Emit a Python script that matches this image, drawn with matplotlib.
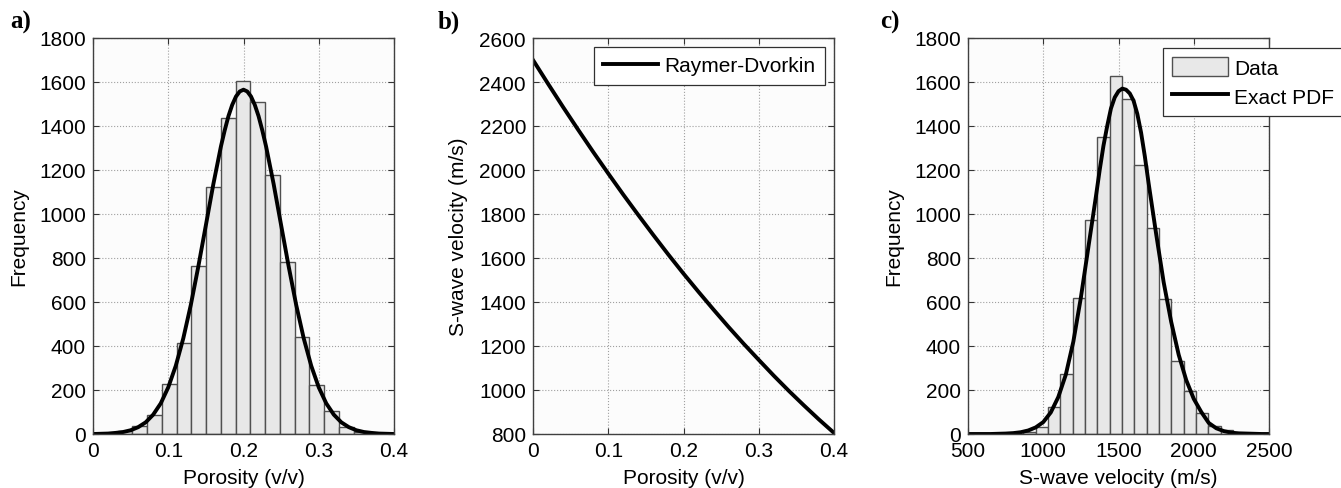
import numpy as np
import matplotlib
matplotlib.use('Agg')
import matplotlib.pyplot as plt

# Porosity histogram (20 bins) and the exact normal PDF scaled to counts
phi_edges = [0.0130, 0.0326, 0.0522, 0.0718, 0.0914, 0.1110, 0.1306, 0.1502,
             0.1698, 0.1894, 0.2090, 0.2286, 0.2482, 0.2678, 0.2874, 0.3070,
             0.3266, 0.3462, 0.3658, 0.3854, 0.4050]
phi_counts = [2, 12, 37, 88, 229, 413, 764, 1122, 1436, 1606,
              1508, 1176, 782, 442, 221, 105, 30, 8, 2, 1]
phi_grid = [0.00, 0.01, 0.02, 0.03, 0.04, 0.05, 0.06, 0.07, 0.08, 0.09, 0.10,
            0.11, 0.12, 0.13, 0.14, 0.15, 0.16, 0.17, 0.175, 0.18, 0.185,
            0.19, 0.195, 0.20, 0.205, 0.21, 0.215, 0.22, 0.225, 0.23,
            0.24, 0.25, 0.26, 0.27, 0.28, 0.29, 0.30,
            0.31, 0.32, 0.33, 0.34, 0.35, 0.36, 0.37, 0.38, 0.39, 0.40]
phi_pdf = [0, 1, 2, 5, 9, 17, 31, 53, 88, 139, 212,
           310, 435, 587, 762, 949, 1137, 1307, 1380, 1445, 1496,
           1534, 1557, 1565, 1557, 1534, 1496, 1445, 1380, 1307,
           1137, 949, 762, 587, 435, 310, 212,
           139, 88, 53, 31, 17, 9, 5, 2, 1, 0]

# Raymer-Dvorkin S-wave velocity vs porosity
rd_phi = [0.00, 0.02, 0.04, 0.06, 0.08, 0.10, 0.12, 0.14, 0.16, 0.18, 0.20,
          0.22, 0.24, 0.26, 0.28, 0.30, 0.32, 0.34, 0.36, 0.38, 0.40]
rd_vs = [2500, 2392, 2286, 2183, 2082, 1984, 1888, 1795, 1704, 1615, 1529,
         1446, 1365, 1286, 1210, 1137, 1065, 996, 930, 866, 805]

# S-wave velocity histogram and its exact PDF
vs_edges = [786, 868, 950, 1032, 1114, 1196, 1278, 1360, 1442, 1524, 1606,
            1688, 1770, 1852, 1934, 2016, 2098, 2180, 2262, 2344, 2426]
vs_counts = [1, 8, 33, 124, 275, 617, 972, 1348, 1628, 1524,
             1222, 937, 613, 334, 196, 95, 37, 20, 3, 1]
vs_grid = [500, 550, 600, 650, 700, 750, 800, 850, 900, 950, 1000,
           1050, 1100, 1150, 1200, 1250, 1300, 1325, 1350, 1375, 1400,
           1425, 1450, 1475, 1500, 1525, 1550, 1575, 1600, 1625, 1650,
           1675, 1700, 1725, 1750, 1775, 1800, 1850, 1900, 1950, 2000,
           2050, 2100, 2150, 2200, 2250, 2300, 2350, 2400, 2450, 2500]
vs_pdf = [0, 0, 0, 0, 1, 2, 4, 8, 16, 30, 54,
          98, 168, 270, 420, 620, 850, 965, 1080, 1200, 1310,
          1400, 1480, 1530, 1558, 1570, 1565, 1548, 1515, 1455, 1370,
          1262, 1140, 1025, 910, 800, 690, 510, 360, 245, 160,
          100, 50, 26, 13, 6, 3, 2, 1, 0, 0]

phi_ticks = [0, 0.1, 0.2, 0.3, 0.4]
phi_ticklabels = ['0', '0.1', '0.2', '0.3', '0.4']
freq_ticks = list(range(0, 1801, 200))
vs_ticks = list(range(800, 2601, 200))
vel_ticks = [500, 1000, 1500, 2000, 2500]

plt.rcParams['font.family'] = ['Liberation Sans', 'DejaVu Sans']
FS = 15
BAR_FACE = '#e8e8e8'
BAR_EDGE = '#505050'
AX_BG = '#fcfcfc'

W, H = 1341, 489
fig = plt.figure(figsize=(W / 100, H / 100), dpi=100)


def px_axes(left, right, top, bottom):
    return fig.add_axes([left / W, 1 - bottom / H, (right - left) / W, (bottom - top) / H])


def style(ax):
    ax.set_facecolor(AX_BG)
    ax.grid(True, linestyle=':', color='#a0a0a0', linewidth=0.8)
    ax.set_axisbelow(True)
    ax.tick_params(direction='in', length=4, width=0.8, color='#333333',
                   top=True, right=True, labelsize=FS, pad=5)
    for s in ax.spines.values():
        s.set_color('#404040')
        s.set_linewidth(1.0)


def hist_bars(ax, edges, counts):
    edges = np.asarray(edges, dtype=float)
    return ax.bar(edges[:-1], counts, width=np.diff(edges), align='edge',
                  color=BAR_FACE, edgecolor=BAR_EDGE, linewidth=1.0, label='Data')


def boxed_legend(ax, handles, loc, anchor, **kw):
    leg = ax.legend(handles=handles, loc=loc, bbox_to_anchor=anchor,
                    bbox_transform=fig.transFigure, fontsize=FS, frameon=True,
                    fancybox=False, framealpha=1, edgecolor='#303030',
                    handlelength=2.65, handletextpad=0.3, borderpad=0.45,
                    borderaxespad=0, **kw)
    leg.get_frame().set_linewidth(0.9)
    return leg


# a) porosity histogram
ax1 = px_axes(93, 394, 39, 435)
style(ax1)
hist_bars(ax1, phi_edges, phi_counts)
ax1.plot(phi_grid, phi_pdf, color='black', lw=2.8)
ax1.set_xlim(0, 0.4)
ax1.set_ylim(0, 1800)
ax1.set_xticks(phi_ticks)
ax1.set_xticklabels(phi_ticklabels)
ax1.set_yticks(freq_ticks)
ax1.set_xlabel('Porosity (v/v)', fontsize=FS, labelpad=6)
ax1.set_ylabel('Frequency', fontsize=FS, labelpad=8)

# b) rock physics model
ax2 = px_axes(533, 834, 39, 435)
style(ax2)
rd_line, = ax2.plot(rd_phi, rd_vs, color='black', lw=2.8, label='Raymer-Dvorkin')
ax2.set_xlim(0, 0.4)
ax2.set_ylim(800, 2600)
ax2.set_xticks(phi_ticks)
ax2.set_xticklabels(phi_ticklabels)
ax2.set_yticks(vs_ticks)
ax2.set_xlabel('Porosity (v/v)', fontsize=FS, labelpad=6)
ax2.set_ylabel('S-wave velocity (m/s)', fontsize=FS, labelpad=8)
boxed_legend(ax2, [rd_line], 'upper right', (825 / W, 1 - 48 / H))

# c) S-wave velocity histogram
ax3 = px_axes(968, 1269, 39, 435)
style(ax3)
bars = hist_bars(ax3, vs_edges, vs_counts)
pdf_line, = ax3.plot(vs_grid, vs_pdf, color='black', lw=2.8, label='Exact PDF')
ax3.set_xlim(500, 2500)
ax3.set_ylim(0, 1800)
ax3.set_xticks(vel_ticks)
ax3.set_yticks(freq_ticks)
ax3.set_xlabel('S-wave velocity (m/s)', fontsize=FS, labelpad=6)
ax3.set_ylabel('Frequency', fontsize=FS, labelpad=8)
boxed_legend(ax3, [bars, pdf_line], 'upper left', (1163 / W, 1 - 49 / H),
             handleheight=1.0, labelspacing=0.4)

# panel letters
for x, s in [(10, 'a)'), (438, 'b)'), (880, 'c)')]:
    fig.text(x / W, 1 - 29 / H, s, fontsize=18, fontweight='bold',
             family='Liberation Serif', va='baseline', ha='left')

fig.savefig('out.png', dpi=100)
